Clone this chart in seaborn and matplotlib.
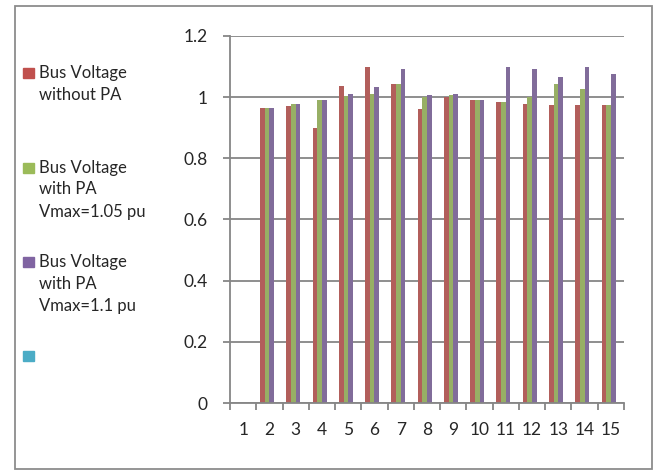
import numpy as np
import pandas as pd
import matplotlib
matplotlib.use('Agg')
import matplotlib.pyplot as plt
from matplotlib.patches import Rectangle
import seaborn as sns

# bus numbers and per-unit voltages
buses = [str(i) for i in range(1, 16)]
v_without_pa = [0, 0.965, 0.970, 0.898, 1.036, 1.098, 1.042, 0.961, 0.999, 0.992, 0.983, 0.979, 0.975, 0.974, 0.976]
v_pa_105 = [0, 0.965, 0.979, 0.992, 1.003, 1.010, 1.042, 1.002, 1.008, 0.992, 0.983, 1.002, 1.042, 1.028, 0.976]
v_pa_110 = [0, 0.965, 0.979, 0.992, 1.011, 1.032, 1.092, 1.006, 1.009, 0.992, 1.099, 1.093, 1.065, 1.098, 1.077]
v_empty = [0] * 15

series_names = ['Bus Voltage\nwithout PA', 'Bus Voltage\nwith PA\nVmax=1.05 pu',
                'Bus Voltage\nwith PA\nVmax=1.1 pu', '']
colors = ['#C0504D', '#9BBB59', '#8064A2', '#4BACC6']
yticks = [0, 0.2, 0.4, 0.6, 0.8, 1.0, 1.2]
ytick_labels = ['0', '0.2', '0.4', '0.6', '0.8', '1', '1.2']

df = pd.concat([
    pd.DataFrame({'bus': buses, 'voltage': vals, 'series': name})
    for name, vals in zip(series_names, [v_without_pa, v_pa_105, v_pa_110, v_empty])
])

sns.set_style('white')
plt.rcParams['font.family'] = ['Lato', 'DejaVu Sans']

grey = '#868686'
fig = plt.figure(figsize=(6.57, 4.71), dpi=100)
ax = fig.add_axes([230 / 657, 1 - 403 / 471, 394 / 657, 367 / 471])

sns.barplot(data=df, x='bus', y='voltage', hue='series', order=buses,
            hue_order=series_names, palette=colors, width=0.71,
            errorbar=None, linewidth=0, legend=False, ax=ax)

ax.set_xlim(-0.5, 14.5)
ax.set_ylim(0, 1.2)
ax.set_yticks(yticks)
ax.set_yticklabels(ytick_labels)
ax.set_xlabel('')
ax.set_ylabel('')
ax.yaxis.grid(True, color=grey, linewidth=1.3)
ax.set_axisbelow(True)
for s in ['top', 'right']:
    ax.spines[s].set_visible(False)
for s in ['left', 'bottom']:
    ax.spines[s].set_color(grey)
    ax.spines[s].set_linewidth(1.3)

ax.set_xticks(np.arange(-0.5, 15, 1), minor=True)
ax.tick_params(axis='x', which='minor', length=5, width=1.3, color=grey, direction='out', bottom=True)
ax.tick_params(axis='x', which='major', length=0, pad=14, labelsize=12.5)
ax.tick_params(axis='y', length=5, width=1.3, color=grey, direction='out', left=True,
               pad=11, labelsize=12.5)

# legend drawn by hand, swatch aligned with first text line
sq_w, sq_h = 11 / 657, 10 / 471
entry_top = [78, 172.5, 267, 361]
for name, color, base in zip(series_names, colors, entry_top):
    fig.patches.append(Rectangle((23 / 657, 1 - base / 471), sq_w, sq_h,
                                 transform=fig.transFigure, color=color))
    for i, line in enumerate(name.split('\n')):
        fig.text(39 / 657, 1 - (base + 22 * i) / 471, line, fontsize=12,
                 va='baseline', ha='left')

# outer chart border
fig.patches.append(Rectangle((14.5 / 657, 1 - 469 / 471), 637.5 / 657, 463.5 / 471,
                             transform=fig.transFigure, fill=False,
                             edgecolor='#8c8c8c', linewidth=1.3))

fig.savefig('out.png', dpi=100)
